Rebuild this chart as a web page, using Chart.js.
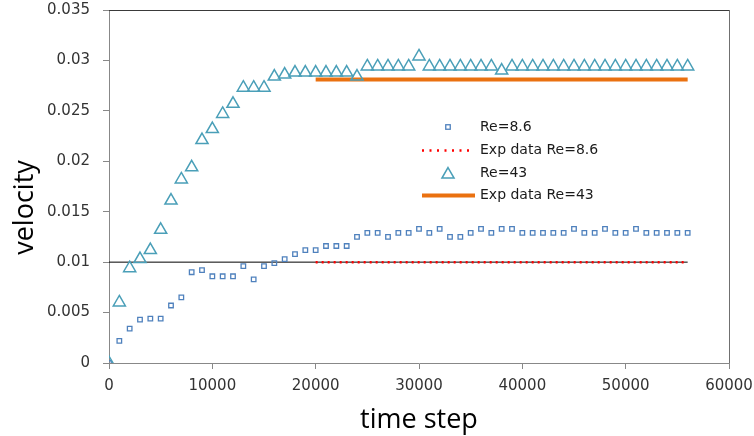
<!DOCTYPE html>
<html><head><meta charset="utf-8">
<script src="https://cdn.jsdelivr.net/npm/chart.js@4.4.1/dist/chart.umd.min.js"></script>
<style>html,body{margin:0;padding:0;background:#fff;} #wrap{position:relative;width:754px;height:436px;}</style>
</head><body><div id="wrap"><canvas id="c" width="754" height="436"></canvas></div>
<script>
const timeSteps = [0,1000,2000,3000,4000,5000,6000,7000,8000,9000,10000,11000,12000,13000,14000,15000,16000,17000,18000,19000,20000,21000,22000,23000,24000,25000,26000,27000,28000,29000,30000,31000,32000,33000,34000,35000,36000,37000,38000,39000,40000,41000,42000,43000,44000,45000,46000,47000,48000,49000,50000,51000,52000,53000,54000,55000,56000];
const re86 = [0,0.0022,0.0034,0.0043,0.0044,0.0044,0.0057,0.0065,0.0090,0.0092,0.0086,0.0086,0.0086,0.0096,0.0083,0.0096,0.0099,0.0103,0.0108,0.0112,0.0112,0.0116,0.0116,0.0116,0.0125,0.0129,0.0129,0.0125,0.0129,0.0129,0.0133,0.0129,0.0133,0.0125,0.0125,0.0129,0.0133,0.0129,0.0133,0.0133,0.0129,0.0129,0.0129,0.0129,0.0129,0.0133,0.0129,0.0129,0.0133,0.0129,0.0129,0.0133,0.0129,0.0129,0.0129,0.0129,0.0129];
const re43 = [0,0.0060,0.0094,0.0103,0.0112,0.0132,0.0161,0.0182,0.0194,0.0221,0.0232,0.0247,0.0257,0.0273,0.0273,0.0273,0.0284,0.0286,0.0288,0.0288,0.0288,0.0288,0.0288,0.0288,0.0284,0.0294,0.0294,0.0294,0.0294,0.0294,0.0304,0.0294,0.0294,0.0294,0.0294,0.0294,0.0294,0.0294,0.0290,0.0294,0.0294,0.0294,0.0294,0.0294,0.0294,0.0294,0.0294,0.0294,0.0294,0.0294,0.0294,0.0294,0.0294,0.0294,0.0294,0.0294,0.0294];
const expSteps = [20000, 56000];
const expRe86 = [0.01, 0.01];
const expRe43 = [0.0281, 0.0281];
const refSteps = [0, 56000];
const refLine = [0.01, 0.01];
const xTicks = [0,10000,20000,30000,40000,50000,60000];
const yTicks = [0,0.005,0.01,0.015,0.02,0.025,0.03,0.035];
const legendLabels = ['Re=8.6','Exp data Re=8.6','Re=43','Exp data Re=43'];
const xTitle = 'time step';
const yTitle = 'velocity';

const BLUE = '#4F81BD', TEAL = '#4A9FB8', RED = '#FF0000', ORANGE = '#EA7110';
const pts = (xs, ys) => xs.map((x, i) => ({x: x, y: ys[i]}));
const noPad = s => { s.paddingTop = 0; s.paddingBottom = 0; s.paddingLeft = 0; s.paddingRight = 0; };

const extras = {
  id: 'extras',
  afterDraw(chart) {
    const ctx = chart.ctx, a = chart.chartArea;
    ctx.save();
    // top & right frame
    ctx.lineWidth = 1;
    ctx.strokeStyle = '#3a3a3a';
    ctx.beginPath(); ctx.moveTo(a.left, a.top + 0.5); ctx.lineTo(a.right, a.top + 0.5); ctx.stroke();
    ctx.strokeStyle = '#707070';
    ctx.beginPath(); ctx.moveTo(a.right + 0.5, a.top); ctx.lineTo(a.right + 0.5, a.bottom); ctx.stroke();
    // legend
    const lx = 480, rows = [127, 150.5, 173, 195.5];
    ctx.font = '14px "DejaVu Sans"';
    ctx.fillStyle = '#1a1a1a';
    ctx.textBaseline = 'middle';
    ctx.textAlign = 'left';
    legendLabels.forEach((t, i) => ctx.fillText(t, lx, rows[i]));
    // square
    ctx.strokeStyle = BLUE; ctx.lineWidth = 1.3;
    ctx.strokeRect(448 - 2.25, rows[0] - 2.25, 4.5, 4.5);
    // red dots
    ctx.strokeStyle = RED; ctx.lineWidth = 2.5; ctx.setLineDash([2, 5.5]);
    ctx.beginPath(); ctx.moveTo(422, rows[1]); ctx.lineTo(472, rows[1]); ctx.stroke();
    ctx.setLineDash([]);
    // triangle
    const r = 7, tx = 448, ty = rows[2] + 1.5;
    ctx.strokeStyle = TEAL; ctx.lineWidth = 1.5;
    ctx.beginPath();
    ctx.moveTo(tx, ty - r);
    ctx.lineTo(tx + r * Math.sin(2 * Math.PI / 3), ty + r / 2);
    ctx.lineTo(tx - r * Math.sin(2 * Math.PI / 3), ty + r / 2);
    ctx.closePath(); ctx.stroke();
    // orange line
    ctx.strokeStyle = ORANGE; ctx.lineWidth = 4;
    ctx.beginPath(); ctx.moveTo(422, rows[3]); ctx.lineTo(475, rows[3]); ctx.stroke();
    // axis titles
    ctx.fillStyle = '#000';
    ctx.font = '27px "Open Sans"';
    ctx.textAlign = 'center'; ctx.textBaseline = 'alphabetic';
    ctx.fillText(xTitle, (a.left + a.right) / 2, 428);
    ctx.translate(33, 207.5); ctx.rotate(-Math.PI / 2);
    ctx.fillText(yTitle, 0, 0);
    ctx.restore();
  }
};

new Chart(document.getElementById('c'), {
  type: 'scatter',
  data: {
    datasets: [
      { label: 'ref', data: pts(refSteps, refLine), showLine: true, borderColor: '#000', borderWidth: 1, pointRadius: 0, order: 5 },
      { label: legendLabels[1], data: pts(expSteps, expRe86), showLine: true, borderColor: RED, borderWidth: 2.5, borderDash: [2, 4], pointRadius: 0, order: 4 },
      { label: legendLabels[0], data: pts(timeSteps, re86), showLine: false, pointStyle: 'rect', pointRadius: 3.2, borderColor: BLUE, borderWidth: 1.3, backgroundColor: 'rgba(0,0,0,0)', order: 3 },
      { label: legendLabels[3], data: pts(expSteps, expRe43), showLine: true, borderColor: ORANGE, borderWidth: 4, pointRadius: 0, order: 2 },
      { label: legendLabels[2], data: pts(timeSteps, re43), showLine: false, pointStyle: 'triangle', pointRadius: 7, borderColor: TEAL, borderWidth: 1.5, backgroundColor: 'rgba(0,0,0,0)', order: 1 }
    ]
  },
  options: {
    responsive: false, animation: false, devicePixelRatio: 1,
    layout: { padding: { top: 10, right: 25, left: 0, bottom: 0 } },
    plugins: { legend: { display: false }, tooltip: { enabled: false } },
    scales: {
      x: {
        type: 'linear', min: 0, max: 60000,
        afterBuildTicks: s => { s.ticks = xTicks.map(v => ({ value: v })); },
        afterFit: s => { s.height = 73; noPad(s); },
        ticks: { callback: v => String(v), font: { family: 'DejaVu Sans', size: 15 }, color: '#333', padding: 8, maxRotation: 0 },
        grid: { drawOnChartArea: false, tickLength: 6, color: '#888' },
        border: { color: '#888' }
      },
      y: {
        type: 'linear', min: 0, max: 0.035,
        afterBuildTicks: s => { s.ticks = yTicks.map(v => ({ value: v })); },
        afterFit: s => { s.width = 109; noPad(s); },
        ticks: { callback: v => String(+v.toFixed(3)), font: { family: 'DejaVu Sans', size: 15 }, color: '#333', padding: 13 },
        grid: { drawOnChartArea: false, tickLength: 6, color: '#888' },
        border: { color: '#888' }
      }
    }
  },
  plugins: [extras]
});
</script></body></html>
